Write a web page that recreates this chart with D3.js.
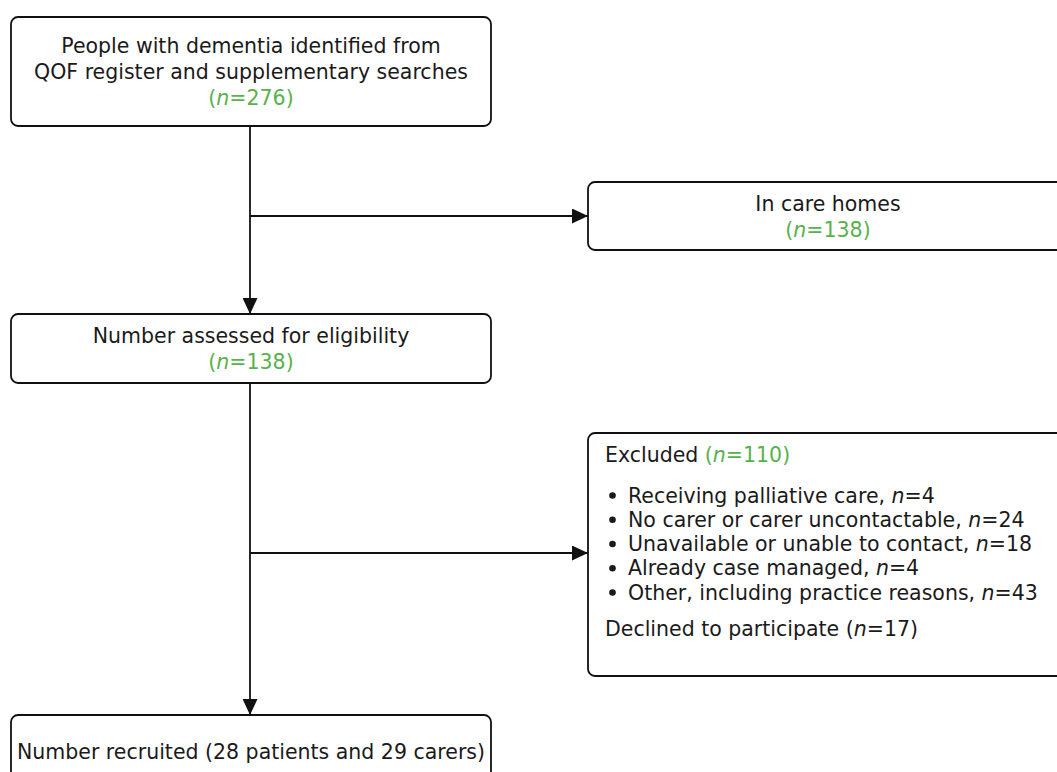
<!DOCTYPE html>
<html lang="en">
<head>
<meta charset="utf-8"/>
<title>Recruitment flow</title>
<script src="https://d3js.org/d3.v7.min.js"></script>
<style>
  body { margin: 0; background: #fff; }
  svg text { font-family: "DejaVu Sans", "Open Sans", sans-serif; font-size: 20.5px; fill: #1a1a1a; }
  .box { fill: #fff; stroke: #111; stroke-width: 1.8px; }
  .link { fill: none; stroke: #111; stroke-width: 1.8px; }
  .green { fill: #58b24c; }
</style>
</head>
<body>
<script>
// ---- data ----
var stepLabels = [
  ["People with dementia identified from", "QOF register and supplementary searches"],
  ["Number assessed for eligibility"],
  ["Number recruited (28 patients and 29 carers)"]
];
var stepCounts = [276, 138, null];

var exitLabels = ["In care homes", "Excluded"];
var exitCounts = [138, 110];

var exclusionReasons = [
  "Receiving palliative care",
  "No carer or carer uncontactable",
  "Unavailable or unable to contact",
  "Already case managed",
  "Other, including practice reasons"
];
var exclusionCounts = [4, 24, 18, 4, 43];
var declinedLabel = "Declined to participate";
var declinedCount = 17;

// ---- layout ----
var W = 1057, H = 772;
var mainX = 11, mainW = 480, spineX = 250;
var mainTop = [17, 314, 715], mainH = [109, 69, 74];
var sideX = 588, sideW = 480;
var sideTop = [182, 433], sideH = [68, 243];
var branchY = [216, 553];
var lineH = 26;

var svg = d3.select("body").append("svg")
  .attr("width", W)
  .attr("height", H);

var defs = svg.append("defs");
defs.append("marker")
    .attr("id", "arrow")
    .attr("viewBox", "0 0 16 15")
    .attr("refX", 16)
    .attr("refY", 7.5)
    .attr("markerWidth", 16)
    .attr("markerHeight", 15)
    .attr("markerUnits", "userSpaceOnUse")
    .attr("orient", "auto")
  .append("path")
    .attr("d", "M0,0L16,7.5L0,15Z")
    .attr("fill", "#111");

// count text "(n=…)" with italic n
function countSpans(sel, n, green) {
  var t = sel.append("tspan").attr("class", green ? "green" : null);
  t.append("tspan").text("(");
  t.append("tspan").attr("font-style", "italic").text("n");
  t.append("tspan").text("=" + n + ")");
}

// spine segments and side branches
d3.range(2).forEach(function(i) {
  svg.append("line")
    .attr("class", "link")
    .attr("x1", spineX).attr("y1", mainTop[i] + mainH[i])
    .attr("x2", spineX).attr("y2", mainTop[i + 1])
    .attr("marker-end", "url(#arrow)");
  svg.append("line")
    .attr("class", "link")
    .attr("x1", spineX).attr("y1", branchY[i])
    .attr("x2", sideX).attr("y2", branchY[i])
    .attr("marker-end", "url(#arrow)");
});

// main boxes
var main = svg.selectAll("g.main")
  .data(stepLabels)
  .join("g")
    .attr("class", "main");

main.append("rect")
  .attr("class", "box")
  .attr("x", mainX)
  .attr("y", function(d, i) { return mainTop[i]; })
  .attr("width", mainW)
  .attr("height", function(d, i) { return mainH[i]; })
  .attr("rx", 7);

main.each(function(lines, i) {
  var g = d3.select(this);
  var rows = lines.length + (stepCounts[i] != null ? 1 : 0);
  var y0 = mainTop[i] + mainH[i] / 2 - (rows - 1) * lineH / 2;
  var text = g.append("text")
    .attr("text-anchor", "middle")
    .attr("dominant-baseline", "central");
  lines.forEach(function(s, k) {
    text.append("tspan")
      .attr("x", mainX + mainW / 2)
      .attr("y", y0 + k * lineH)
      .text(s);
  });
  if (stepCounts[i] != null) {
    var t = text.append("tspan")
      .attr("x", mainX + mainW / 2)
      .attr("y", y0 + lines.length * lineH);
    countSpans(t, stepCounts[i], true);
  }
});

// side box: in care homes
svg.append("rect")
  .attr("class", "box")
  .attr("x", sideX).attr("y", sideTop[0])
  .attr("width", sideW).attr("height", sideH[0])
  .attr("rx", 7);

var careText = svg.append("text")
  .attr("text-anchor", "middle")
  .attr("dominant-baseline", "central");
careText.append("tspan")
  .attr("x", sideX + sideW / 2)
  .attr("y", sideTop[0] + sideH[0] / 2 - lineH / 2 + 1)
  .text(exitLabels[0]);
countSpans(careText.append("tspan")
  .attr("x", sideX + sideW / 2)
  .attr("y", sideTop[0] + sideH[0] / 2 + lineH / 2 + 1), exitCounts[0], true);

// side box: excluded
svg.append("rect")
  .attr("class", "box")
  .attr("x", sideX).attr("y", sideTop[1])
  .attr("width", sideW).attr("height", sideH[1])
  .attr("rx", 7);

var padX = 17;
var exTop = sideTop[1] + 22;
var ex = svg.append("text")
  .attr("x", sideX + padX)
  .attr("y", exTop)
  .attr("dominant-baseline", "central");
ex.append("tspan").text(exitLabels[1] + " ");
countSpans(ex, exitCounts[1], true);

var bulletY = d3.scalePoint()
  .domain(d3.range(exclusionReasons.length))
  .range([exTop + 40.5, exTop + 40.5 + (exclusionReasons.length - 1) * 24.25]);

var bullets = svg.selectAll("g.reason")
  .data(exclusionReasons)
  .join("g")
    .attr("class", "reason")
    .attr("transform", function(d, i) { return "translate(0," + bulletY(i) + ")"; });

bullets.append("circle")
  .attr("cx", sideX + 24.5)
  .attr("cy", 0)
  .attr("r", 3.3)
  .attr("fill", "#1a1a1a");

bullets.append("text")
  .attr("x", sideX + 40)
  .attr("dominant-baseline", "central")
  .each(function(d, i) {
    var t = d3.select(this);
    t.append("tspan").text(d + ", ");
    t.append("tspan").attr("font-style", "italic").text("n");
    t.append("tspan").text("=" + exclusionCounts[i]);
  });

var dec = svg.append("text")
  .attr("x", sideX + padX)
  .attr("y", bulletY(exclusionReasons.length - 1) + 36)
  .attr("dominant-baseline", "central");
dec.append("tspan").text(declinedLabel + " ");
countSpans(dec, declinedCount, false);
</script>
</body>
</html>
